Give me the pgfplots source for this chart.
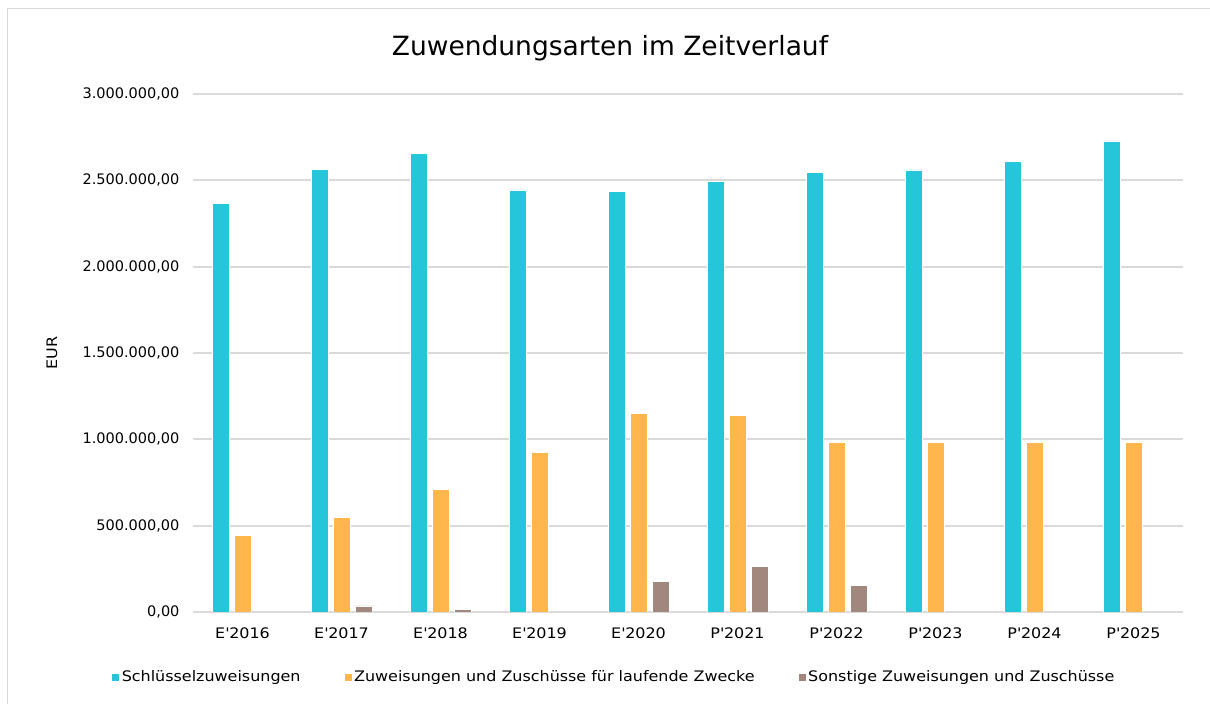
\documentclass[border=0pt]{standalone}
\usepackage{pgfplots}
\pgfplotsset{compat=1.18}
\usepackage{fontspec}
\setmainfont{DejaVu Sans}
\newfontfamily\widefont{DejaVu Sans}[FakeStretch=1.1]
\definecolor{cCyan}{HTML}{26C6DA}
\definecolor{cOrange}{HTML}{FFB74D}
\definecolor{cBrown}{HTML}{A1887F}
\definecolor{cGrid}{HTML}{D9D9D9}
\begin{document}
\begin{tikzpicture}[x=1pt,y=1pt]
\useasboundingbox (0,0) rectangle (1210,704);
\fill[white] (0,0) rectangle (1210,704);
\draw[cGrid, line width=1.5pt] (7.5,0) -- (7.5,695.5) -- (1210,695.5);
\begin{axis}[
  at={(193pt,92pt)}, anchor=south west,
  scale only axis, width=990pt, height=518pt,
  xmin=-0.5, xmax=9.5, ymin=0, ymax=3000000,
  ybar=5pt, bar width=17pt,
  xtick=data,
  xticklabels={E\textquotesingle2016,E\textquotesingle2017,E\textquotesingle2018,E\textquotesingle2019,E\textquotesingle2020,P\textquotesingle2021,P\textquotesingle2022,P\textquotesingle2023,P\textquotesingle2024,P\textquotesingle2025},
  ytick={0,500000,1000000,1500000,2000000,2500000,3000000},
  scaled y ticks=false,
  ticklabel style={font=\fontsize{14.5}{17}\selectfont, text=black},
  yticklabel style={xshift=-10pt, /pgf/number format/.cd, fixed, fixed zerofill, precision=2, 1000 sep={.}, use comma, assume math mode=true},
  xticklabel style={yshift=-12pt, font=\widefont\fontsize{14.5}{17}\selectfont},
  major tick length=0pt,
  axis line style={draw=none},
  ymajorgrids, grid style={cGrid, line width=2pt},
  title={Zuwendungsarten im Zeitverlauf},
  title style={at={(axis description cs:0.4212,1.0773)}, anchor=center, font=\fontsize{26.5}{32}\selectfont},
  ylabel={EUR},
  every axis y label/.style={at={(axis description cs:-0.1424,0.5)}, rotate=90, anchor=center, font=\widefont\fontsize{14.5}{17}\selectfont},
  legend columns=3,
  legend style={at={(axis description cs:0.425,-0.1255)}, anchor=center, draw=none, fill=none,
    font=\widefont\fontsize{14.5}{17}\selectfont,
    /tikz/every even column/.append style={column sep=41pt},
    inner sep=0pt},
  legend image code/.code={\fill[#1] (0pt,-4pt) rectangle (8pt,4pt);},
  legend cell align=left,
]
\addplot[fill=cCyan, draw=white, line width=0.6pt] coordinates {
 (0,2367000) (1,2564000) (2,2656000) (3,2444000) (4,2438000)
 (5,2496000) (6,2546000) (7,2560000) (8,2608000) (9,2728000)};
\addplot[fill=cOrange, draw=white, line width=0.6pt] coordinates {
 (0,444000) (1,548000) (2,710000) (3,925000) (4,1151000)
 (5,1137000) (6,983000) (7,983000) (8,983000) (9,983000)};
\addplot[fill=cBrown, draw=white, line width=0.6pt] coordinates {
 (1,35000) (2,15000) (4,178000) (5,266000) (6,155000)};
\legend{Schlüsselzuweisungen, Zuweisungen und Zuschüsse für laufende Zwecke, Sonstige Zuweisungen und Zuschüsse}
\end{axis}
\end{tikzpicture}
\end{document}
